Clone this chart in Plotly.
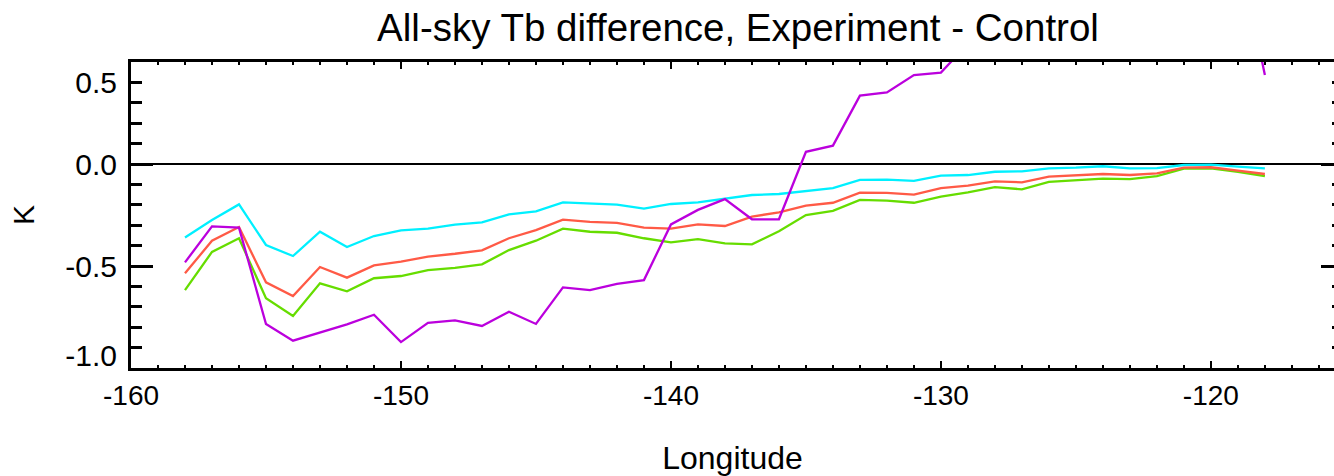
import plotly.graph_objects as go

longitude = list(range(-158, -117))

cyan_vals = [-0.36, -0.275, -0.198, -0.397, -0.451, -0.332, -0.407, -0.353, -0.325, -0.317,
             -0.297, -0.286, -0.247, -0.232, -0.188, -0.194, -0.199, -0.219, -0.196, -0.188,
             -0.17, -0.152, -0.147, -0.131, -0.118, -0.078, -0.077, -0.083, -0.057, -0.054,
             -0.038, -0.036, -0.021, -0.018, -0.011, -0.021, -0.02, -0.005, -0.003, -0.013, -0.021]

magenta_vals = [-0.482, -0.306, -0.312, -0.784, -0.866, -0.827, -0.786, -0.739, -0.873, -0.779,
                -0.767, -0.794, -0.724, -0.784, -0.605, -0.618, -0.588, -0.569, -0.296, -0.225,
                -0.172, -0.271, -0.271, 0.060, 0.090, 0.335, 0.351, 0.436, 0.448, 0.59,
                0.72, 0.78, 0.93, 0.88, 1.02, 1.10, 0.97, 1.15, 1.21, 1.07, 0.436]

red_vals = [-0.536, -0.376, -0.309, -0.58, -0.647, -0.505, -0.557, -0.497, -0.479, -0.454,
            -0.44, -0.423, -0.364, -0.324, -0.273, -0.284, -0.289, -0.312, -0.317, -0.296,
            -0.304, -0.258, -0.237, -0.204, -0.19, -0.141, -0.142, -0.150, -0.118, -0.106,
            -0.085, -0.090, -0.062, -0.055, -0.049, -0.054, -0.046, -0.018, -0.016, -0.033, -0.049]

green_vals = [-0.618, -0.431, -0.364, -0.658, -0.745, -0.585, -0.624, -0.56, -0.549, -0.52,
              -0.509, -0.492, -0.422, -0.376, -0.317, -0.332, -0.337, -0.364, -0.384, -0.368,
              -0.389, -0.394, -0.33, -0.25, -0.23, -0.176, -0.18, -0.19, -0.16, -0.139,
              -0.113, -0.124, -0.088, -0.079, -0.072, -0.074, -0.059, -0.023, -0.021, -0.038, -0.059]

x_tick_vals = [-160, -150, -140, -130, -120]
x_tick_text = ["-160", "-150", "-140", "-130", "-120"]
y_label_pos = [0.40, 0.0, -0.5, -0.94]
y_label_text = ["0.5", "0.0", "-0.5", "-1.0"]

FONT = "Liberation Sans, Arial, Helvetica, sans-serif"

fig = go.Figure()
series = [
    (cyan_vals, "#00F0FF"),
    (green_vals, "#66DD00"),
    (red_vals, "#FF5A46"),
    (magenta_vals, "#BB00DD"),
]
for vals, col in series:
    fig.add_trace(go.Scatter(x=longitude, y=vals, mode="lines",
                             line=dict(color=col, width=2.3), showlegend=False,
                             hoverinfo="skip"))

# invisible carriers so the tick-only overlay axes get drawn
for ax in ["y2", "y3"]:
    fig.add_trace(go.Scatter(x=longitude[:1], y=cyan_vals[:1], yaxis=ax, mode="markers",
                             marker=dict(opacity=0), showlegend=False, hoverinfo="skip"))

fig.update_layout(
    width=1334, height=476,
    margin=dict(l=131, r=0, t=62, b=108),
    paper_bgcolor="white", plot_bgcolor="white",
    font=dict(family=FONT, color="black", size=28),
    hovermode=False,
    title=dict(text="All-sky Tb difference, Experiment - Control",
               x=(131 + 1345) / 2 / 1334, xanchor="center",
               y=1 - 28 / 476, yanchor="middle", yref="container",
               font=dict(family=FONT, size=38.5, color="black")),
    xaxis=dict(range=[-160, -115.44], tickmode="array", tickvals=x_tick_vals, ticktext=x_tick_text,
               ticks="inside", ticklen=7, tickwidth=2, tickcolor="black",
               minor=dict(tickmode="linear", tick0=-160, dtick=1, ticks="inside", ticklen=3,
                          tickwidth=2, tickcolor="black"),
               showline=True, linewidth=3, linecolor="black", mirror="ticks",
               showgrid=False, zeroline=False,
               ticklabelstandoff=0,
               tickfont=dict(size=28),
               title=dict(text="Longitude", font=dict(size=32), standoff=39)),
    yaxis=dict(range=[-1.0, 0.5], tickmode="array", tickvals=y_label_pos, ticktext=y_label_text,
               ticks="", showline=True, linewidth=3, linecolor="black",
               showgrid=False, zeroline=True, zerolinecolor="black", zerolinewidth=2,
               ticklabelstandoff=5, tickfont=dict(size=30),
               title=dict(text="K", font=dict(size=30), standoff=22)),
    yaxis2=dict(range=[-1.0, 0.5], overlaying="y", side="left", tick0=0, dtick=0.5,
                ticks="inside", ticklen=22, tickwidth=3, tickcolor="black",
                minor=dict(tick0=0, dtick=0.1, ticks="inside", ticklen=11, tickwidth=3, tickcolor="black"),
                showticklabels=False, showline=False, showgrid=False, zeroline=False),
    yaxis3=dict(range=[-1.0, 0.5], overlaying="y", side="right", tick0=0, dtick=0.5,
                ticks="inside", ticklen=13, tickwidth=3, tickcolor="black",
                minor=dict(tick0=0, dtick=0.1, ticks="inside", ticklen=2, tickwidth=3, tickcolor="black"),
                showticklabels=False, showline=False, showgrid=False, zeroline=False),
)

fig.write_html("out.html", config={"displayModeBar": False},
               post_script="document.body.style.margin='0px';")
